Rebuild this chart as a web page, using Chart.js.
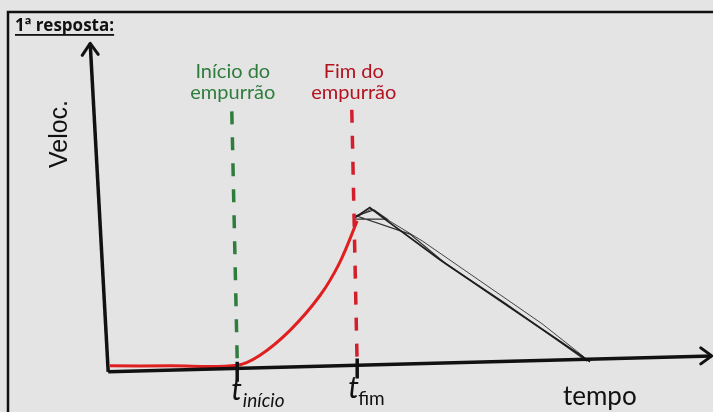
<!DOCTYPE html>
<html lang="pt">
<head>
<meta charset="utf-8">
<title>1ª resposta</title>
<script src="https://cdn.jsdelivr.net/npm/chart.js@4.4.1/dist/chart.umd.min.js"></script>
<style>
  html, body { margin: 0; padding: 0; background: #e4e4e4; }
  #wrap { width: 713px; height: 412px; position: relative; }
</style>
</head>
<body>
<div id="wrap"><canvas id="grafico" width="713" height="412"></canvas></div>
<script>
const tInicio = 2.12;
const tFim = 4.12;

// curva vermelha: parado e depois acelerando durante o empurrão
const tempoVermelho = [0, 1.0, 2.12, 2.5, 3.0, 3.5, 3.83, 4.12];
const velocVermelho = [0.18, 0.18, 0.2, 0.5, 1.25, 2.3, 3.3, 4.55];

// curva preta: depois do empurrão, desacelera até parar (vários traços)
const tempoPreto = [4.08, 4.33, 4.62, 5.5, 6.7, 8.0];
const velocPreto = [4.64, 4.95, 4.55, 3.38, 1.9, 0.3];
const tempoPreto2 = [4.1, 4.62, 4.4, 4.1, 5.0, 5.6, 6.6, 7.95];
const velocPreto2 = [4.6, 4.6, 4.88, 4.7, 4.15, 3.25, 2.05, 0.32];
const tempoPreto3 = [4.15, 4.35, 4.7, 5.2, 6.0, 7.2, 7.9];
const velocPreto3 = [4.7, 4.9, 4.5, 3.95, 2.95, 1.45, 0.45];

// eixos desenhados à mão (levemente tortos)
const eixoY = [{x: -0.33, y: 9.9}, {x: -0.03, y: 0}];
const eixoX = [{x: -0.03, y: 0}, {x: 10.03, y: 0.48}];

// linhas tracejadas verticais
const linhaInicio = [{x: 2.03, y: 7.85}, {x: 2.12, y: 0.36}];
const linhaFim = [{x: 4.03, y: 7.9}, {x: 4.12, y: 0.15}];

// marcas no eixo x
const marcaInicio = [{x: tInicio, y: 0.3}, {x: tInicio, y: -0.3}];
const marcaFim = [{x: tFim, y: 0.4}, {x: tFim, y: -0.2}];

const verde = '#2e7d3c';
const vermelho = '#e02020';
const vermelhoEscuro = '#b3121f';

function pontos(xs, ys) {
    return xs.map((x, i) => ({x: x, y: ys[i]}));
}

function linha(label, data, cor, largura, extra) {
    return Object.assign({
        label: label,
        data: data,
        showLine: true,
        borderColor: cor,
        borderWidth: largura,
        pointRadius: 0,
        fill: false,
        clip: false,
        tension: 0
    }, extra || {});
}

// desenha moldura, textos e setas
const esboco = {
    id: 'esboco',
    beforeDraw(chart) {
        const c = chart.ctx;
        c.save();
        c.fillStyle = '#e4e4e4';
        c.fillRect(0, 0, chart.width, chart.height);
        c.strokeStyle = '#111';
        c.lineWidth = 2.5;
        c.strokeRect(8, 12, chart.width + 20, chart.height + 20);
        c.restore();
    },
    afterDatasetsDraw(chart) {
        const c = chart.ctx;
        const sx = chart.scales.x;
        const sy = chart.scales.y;
        const px = v => sx.getPixelForValue(v);
        const py = v => sy.getPixelForValue(v);
        c.save();

        // pontas das setas
        c.strokeStyle = '#111';
        c.lineWidth = 3;
        c.lineCap = 'round';
        c.lineJoin = 'round';
        const ty = {x: px(eixoY[0].x), y: py(eixoY[0].y)};
        c.beginPath();
        c.moveTo(ty.x - 8, ty.y + 12);
        c.lineTo(ty.x, ty.y);
        c.lineTo(ty.x + 8, ty.y + 11);
        c.stroke();
        const tx = {x: px(eixoX[1].x), y: py(eixoX[1].y)};
        c.beginPath();
        c.moveTo(tx.x - 11, tx.y - 8);
        c.lineTo(tx.x, tx.y);
        c.lineTo(tx.x - 11, tx.y + 8);
        c.stroke();

        // título
        c.fillStyle = '#111';
        c.font = 'bold 17px "Open Sans", "Liberation Sans", sans-serif';
        c.textAlign = 'left';
        c.textBaseline = 'alphabetic';
        c.fillText('1ª resposta:', 15, 31);
        const wt = c.measureText('1ª resposta:').width;
        c.fillRect(15, 34, wt, 1.8);

        // rótulos das linhas tracejadas
        c.textAlign = 'center';
        c.textBaseline = 'middle';
        c.font = '20px Lato, "Open Sans", sans-serif';
        c.fillStyle = verde;
        c.fillText('Início do', px(2.03) + 1, 72);
        c.fillText('empurrão', px(2.03) + 1, 93);
        c.fillStyle = vermelhoEscuro;
        c.fillText('Fim do', px(4.03) + 2, 72);
        c.fillText('empurrão', px(4.03) + 2, 93);

        // eixo vertical
        c.save();
        c.translate(60, 134);
        c.rotate(-Math.PI / 2);
        c.fillStyle = '#111';
        c.font = '25px "Liberation Sans", Arial, sans-serif';
        c.fillText('Veloc.', 0, 0);
        c.restore();

        // eixo horizontal
        c.fillStyle = '#111';
        c.font = '26px Lato, "Open Sans", sans-serif';
        c.textAlign = 'left';
        c.textBaseline = 'alphabetic';
        c.fillText('tempo', 563, 405);

        // t_início e t_fim
        c.font = 'italic 30px Lato, "Open Sans", sans-serif';
        const wT = c.measureText('t').width;
        c.fillText('t', px(tInicio) - 6, 400);
        c.font = 'italic 19px Lato, "Open Sans", sans-serif';
        c.fillText('início', px(tInicio) - 5 + wT, 407);
        c.font = 'italic 30px Lato, "Open Sans", sans-serif';
        c.fillText('t', px(tFim) - 9, 398);
        c.font = '19px Lato, "Open Sans", sans-serif';
        c.fillText('fim', px(tFim) + 1, 405);

        c.restore();
    }
};

new Chart(document.getElementById('grafico').getContext('2d'), {
    type: 'scatter',
    data: {
        datasets: [
            linha('Início do empurrão', linhaInicio, verde, 3.5, {borderDash: [13, 13]}),
            linha('Fim do empurrão', linhaFim, '#d21f2b', 3.5, {borderDash: [13, 13]}),
            linha('eixo y', eixoY, '#111', 3.5),
            linha('eixo x', eixoX, '#111', 3.5),
            linha('marca início', marcaInicio, '#111', 3.5),
            linha('marca fim', marcaFim, '#111', 3.5),
            linha('durante o empurrão', pontos(tempoVermelho, velocVermelho), vermelho, 3, {tension: 0.35}),
            linha('depois do empurrão', pontos(tempoPreto, velocPreto), '#1e1e1e', 1.8),
            linha('depois do empurrão 2', pontos(tempoPreto2, velocPreto2), '#333', 1.2),
            linha('depois do empurrão 3', pontos(tempoPreto3, velocPreto3), '#444', 1.0)
        ]
    },
    options: {
        responsive: false,
        animation: false,
        layout: {
            padding: {left: 80, right: 3, top: 40, bottom: 7}
        },
        plugins: {
            legend: {display: false},
            tooltip: {enabled: false}
        },
        scales: {
            x: {type: 'linear', min: -0.5, max: 10, display: false},
            y: {type: 'linear', min: -1, max: 10, display: false}
        }
    },
    plugins: [esboco]
});
</script>
</body>
</html>
